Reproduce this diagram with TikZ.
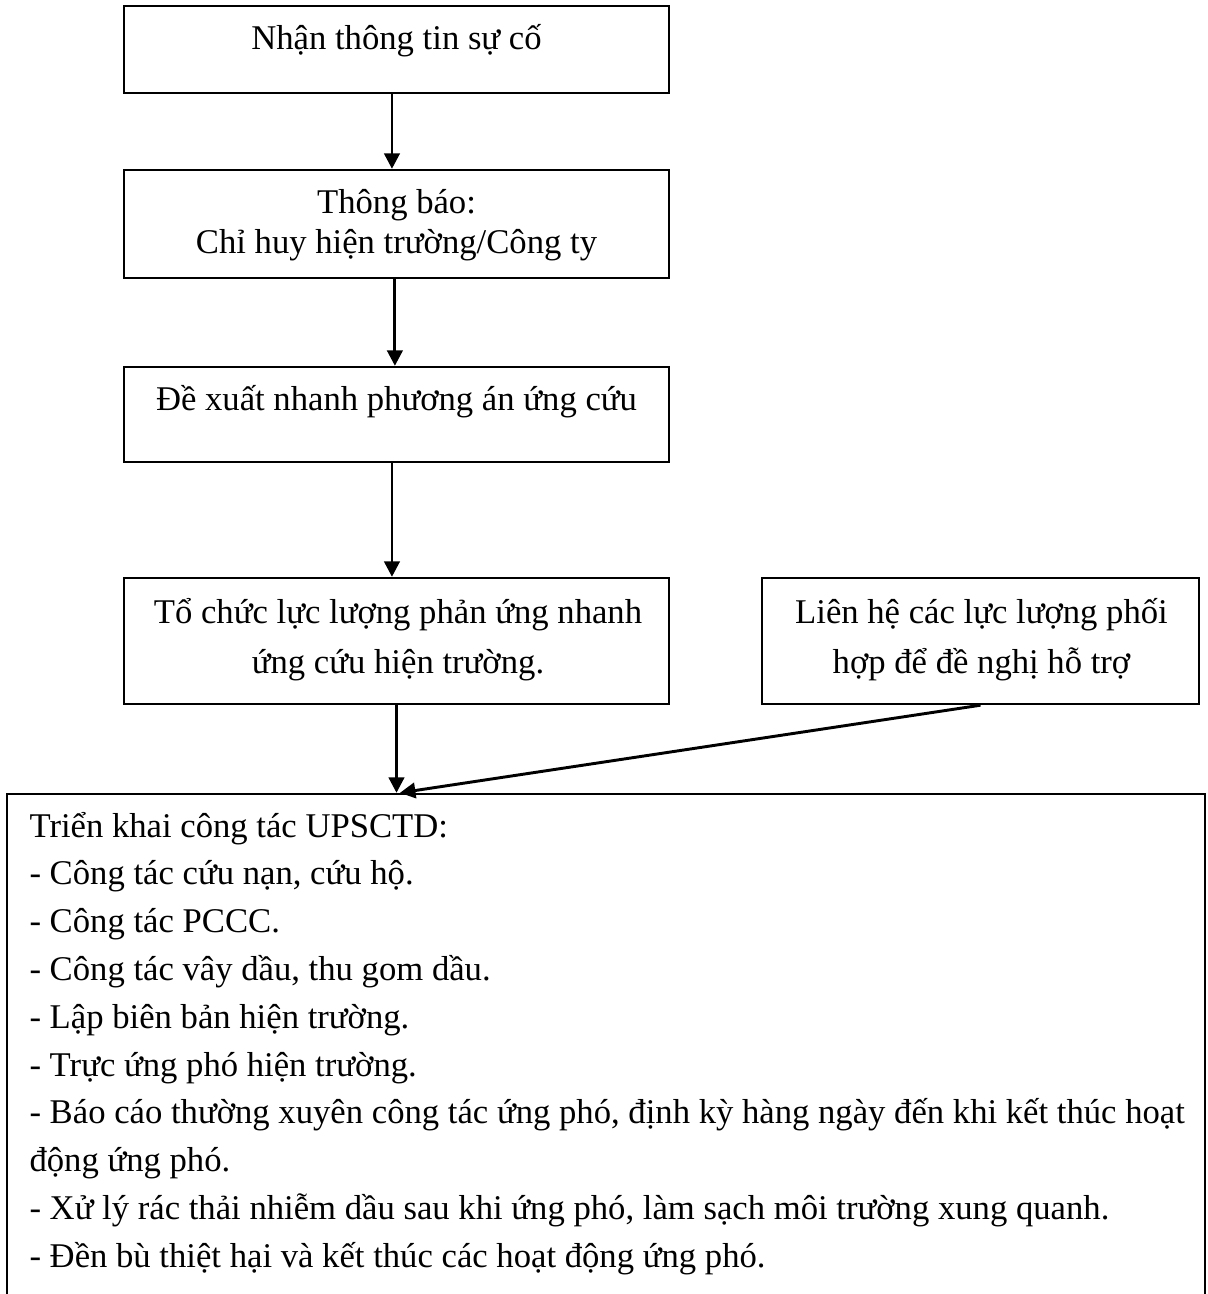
\documentclass[tikz,border=0pt]{standalone}
\usepackage{fontspec}
\setmainfont{Liberation Serif}
\usetikzlibrary{arrows.meta,fit}
\begin{document}
\begin{tikzpicture}[x=0.375pt,y=-0.375pt,
  box/.style={draw,line width=0.9pt,rectangle,inner sep=0pt},
  txt/.style={font=\fontsize{13}{16}\selectfont,inner sep=0pt,anchor=base},
  ltxt/.style={font=\fontsize{13}{16}\selectfont,inner sep=0pt,anchor=base west},
  arr/.style={line width=1.1pt,-{Triangle[width=5.8pt,length=5.8pt]}}]
\clip (0,0) rectangle (1208,1294);
\useasboundingbox (0,0) rectangle (1208,1294);
% boxes
\node (b1) [box, fit={(124,6) (669,93)}] {};
\node (b2) [box, fit={(124,170) (669,278)}] {};
\node (b3) [box, fit={(124,367) (669,462)}] {};
\node (b4) [box, fit={(124,578) (669,704)}] {};
\node (b5) [box, fit={(762,578) (1199,704)}] {};
\node (big) [box, fit={(7,794) (1205,1320)}] {};
% texts
\node (t1) [txt] at (396.5,49) {Nhận thông tin sự cố};
\node (t2a) [txt] at (396.5,213) {Thông báo:};
\node (t2b) [txt] at (396.5,253) {Chỉ huy hiện trường/Công ty};
\node (t3) [txt] at (396.5,410) {Đề xuất nhanh phương án ứng cứu};
\node (t4a) [txt] at (398,623) {Tổ chức lực lượng phản ứng nhanh};
\node (t4b) [txt] at (398,673) {ứng cứu hiện trường.};
\node (t5a) [txt] at (981.5,623) {Liên hệ các lực lượng phối};
\node (t5b) [txt] at (981.5,673) {hợp để đề nghị hỗ trợ};
\foreach \i/\s in {0/{Triển khai công tác UPSCTD:},
                   1/{- Công tác cứu nạn, cứu hộ.},
                   2/{- Công tác PCCC.},
                   3/{- Công tác vây dầu, thu gom dầu.},
                   4/{- Lập biên bản hiện trường.},
                   5/{- Trực ứng phó hiện trường.},
                   6/{- Báo cáo thường xuyên công tác ứng phó, định kỳ hàng ngày đến khi kết thúc hoạt},
                   7/{động ứng phó.},
                   8/{- Xử lý rác thải nhiễm dầu sau khi ứng phó, làm sạch môi trường xung quanh.},
                   9/{- Đền bù thiệt hại và kết thúc các hoạt động ứng phó.}}
  \node (l\i) [ltxt] at (29,837+47.8*\i) {\s};
% connectors
\coordinate (join) at (b4.south |- big.north);
\draw[arr] ([xshift=-1.7pt]b1.south) -- ([xshift=-1.7pt]b2.north);
\draw[arr] ([xshift=-0.6pt]b2.south) -- ([xshift=-0.6pt]b3.north);
\draw[arr] ([xshift=-1.7pt]b3.south) -- ([xshift=-1.7pt]b4.north);
\draw[arr] (b4.south) -- (join);
\draw[arr] (b5.south) -- ([xshift=1.3pt]join);
\end{tikzpicture}
\end{document}
